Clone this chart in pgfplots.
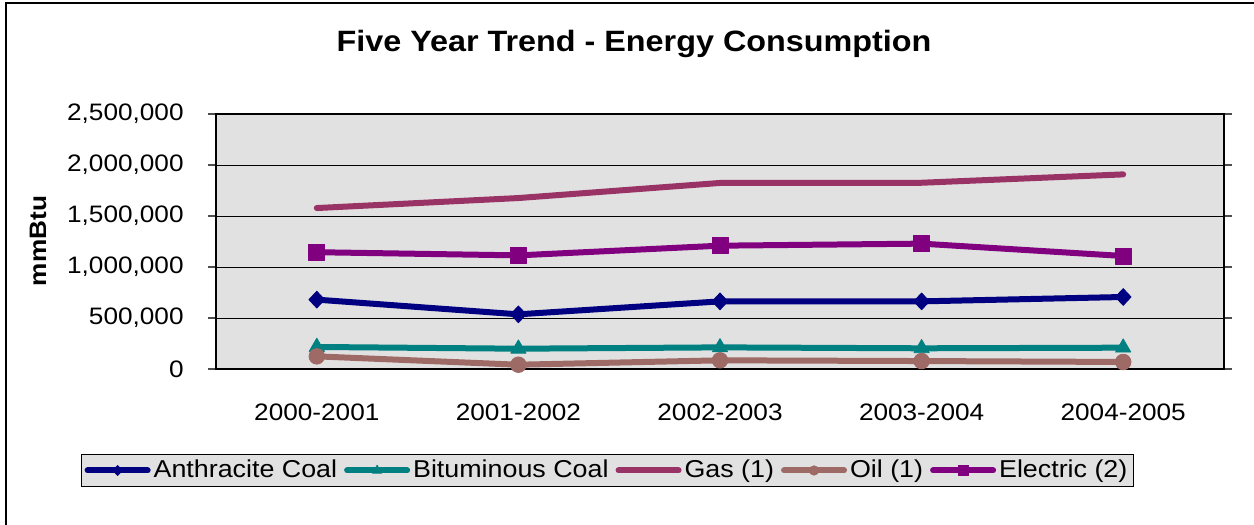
\documentclass[border=0pt]{standalone}
\usepackage{pgfplots}
\pgfplotsset{compat=1.18}
\usepackage{fontspec}
\setmainfont[FakeStretch=1.1]{Liberation Sans}

\definecolor{anthc}{HTML}{000080}
\definecolor{bituc}{HTML}{008080}
\definecolor{gasc}{HTML}{993366}
\definecolor{oilc}{HTML}{9E6A66}
\definecolor{elecc}{HTML}{800080}
\definecolor{plotbg}{HTML}{E1E1E1}

\begin{document}
\begin{tikzpicture}
\begin{axis}[
  at={(0,0)}, anchor=south west,
  scale only axis,
  width=504pt, height=127.5pt,
  xmin=-0.5, xmax=4.5,
  ymin=0, ymax=2500000,
  clip=false,
  axis background/.style={fill=plotbg},
  axis line style={line width=1pt, black},
  xtick={0,1,2,3,4},
  xticklabels={2000-2001,2001-2002,2002-2003,2003-2004,2004-2005},
  xtick style={draw=none},
  minor xtick={-0.5,0.5,1.5,2.5,3.5,4.5},
  minor tick length=3.5pt,
  minor x tick style={black!70, line width=0.6pt},
  ytick={0,500000,1000000,1500000,2000000,2500000},
  ytick style={black!70, line width=0.6pt},
  major tick length=4pt,
  tick align=outside,
  ymajorgrids,
  major grid style={black, line width=0.5pt},
  scaled y ticks=false,
  /pgf/number format/fixed,
  /pgf/number format/1000 sep={,},
  /pgf/number format/assume math mode=true,
  yticklabel style={anchor=east, inner sep=0pt, xshift=-12pt, font=\fontsize{11.9}{14}\selectfont},
  xticklabel style={anchor=base, inner sep=0pt, yshift=-21.5pt, font=\fontsize{11.9}{14}\selectfont},
  title={Five Year Trend - Energy Consumption},
  title style={at={(axis description cs:0.4147,1.2)}, anchor=base, inner sep=0pt,
    font=\bfseries\fontsize{14.7}{17}\selectfont},
  ylabel={mmBtu},
  ylabel style={at={(axis description cs:-0.1766,0.502)}, anchor=center, inner sep=0pt,
    font=\bfseries\fontsize{11.9}{14}\selectfont},
  legend columns=5,
  legend style={at={(0.3884,-0.398)}, anchor=center, draw=black, line width=0.5pt,
    fill=plotbg, inner sep=1.5pt, font=\fontsize{12.2}{14}\selectfont,
    nodes={inner sep=1.5pt},
    /tikz/every even column/.append style={column sep=2pt}},
  legend image code/.code={
    \draw[line width=3pt, line cap=round, #1, every mark/.append style={scale=0.6}]
      plot[mark repeat=2, mark phase=2] coordinates {(0pt,0pt) (15pt,0pt) (30pt,0pt)};
  },
  every axis plot/.append style={line width=3pt, line cap=round, line join=round},
]
\addplot[color=anthc, mark=diamond*, mark size=4.2pt,
  mark options={solid, fill=anthc, line width=0.4pt, xscale=1.25}]
  coordinates {(0,680000) (1,536000) (2,663000) (3,663000) (4,706000)};
\addlegendentry{Anthracite Coal}
\addplot[color=bituc, mark=triangle*, mark size=4.4pt,
  mark options={solid, fill=bituc, line width=0.4pt}]
  coordinates {(0,216000) (1,199000) (2,212000) (3,203000) (4,209000)};
\addlegendentry{Bituminous Coal}
\addplot[color=gasc, mark=none]
  coordinates {(0,1578000) (1,1676000) (2,1824000) (3,1826000) (4,1908000)};
\addlegendentry{Gas (1)}
\addplot[color=oilc, mark=*, mark size=3.9pt,
  mark options={solid, fill=oilc, line width=0.4pt}]
  coordinates {(0,124000) (1,42000) (2,85000) (3,78000) (4,69000)};
\addlegendentry{Oil (1)}
\addplot[color=elecc, mark=square*, mark size=4pt,
  mark options={solid, fill=elecc, line width=0.4pt}]
  coordinates {(0,1145000) (1,1114000) (2,1209000) (3,1229000) (4,1108000)};
\addlegendentry{Electric (2)}
\end{axis}
% chart frame
\draw[line width=0.75pt, black] (-105pt,-82pt) -- (-105pt,183pt) -- (523pt,183pt);
\pgfresetboundingbox
\path[use as bounding box] (-108pt,-78pt) rectangle (519pt,184.5pt);
\end{tikzpicture}
\end{document}
